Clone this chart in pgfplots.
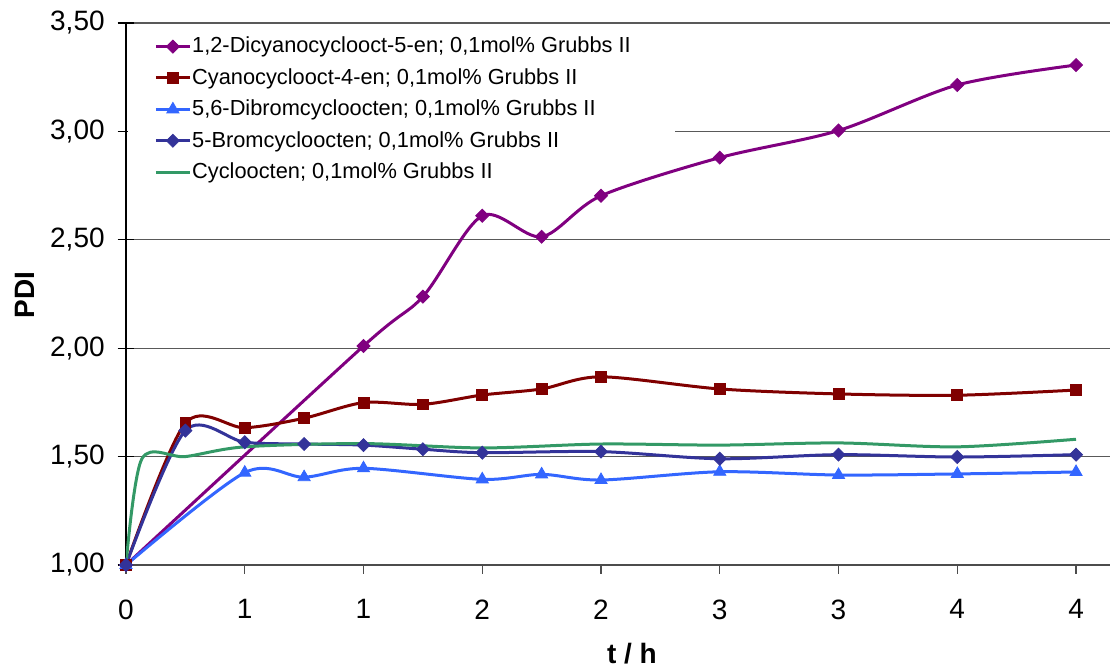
\documentclass[border=0pt]{standalone}
\usepackage{pgfplots}
\pgfplotsset{compat=1.18}
\usepackage{fontspec}
\setmainfont{Liberation Sans}
\definecolor{cpurple}{HTML}{800080}
\definecolor{cred}{HTML}{800000}
\definecolor{clblue}{HTML}{3366FF}
\definecolor{cdblue}{HTML}{333399}
\definecolor{cgreen}{HTML}{339966}

\pgfplotstableread{
x y
0 1.00
1.0 2.01
1.25 2.238
1.5 2.611
1.75 2.514
2.0 2.703
2.5 2.879
3.0 3.004
3.5 3.214
4.0 3.306
}\tpurple
\pgfplotstableread{
x y
0 1.00
0.25 1.654
0.5 1.633
0.75 1.677
1.0 1.749
1.25 1.741
1.5 1.784
1.75 1.812
2.0 1.868
2.5 1.812
3.0 1.789
3.5 1.783
4.0 1.807
}\tred
\pgfplotstableread{
x y
0 1.00
0.5 1.426
0.75 1.405
1.0 1.446
1.5 1.395
1.75 1.418
2.0 1.392
2.5 1.430
3.0 1.415
3.5 1.420
4.0 1.429
}\tlblue
\pgfplotstableread{
x y
0 1.00
0.25 1.620
0.5 1.566
0.75 1.558
1.0 1.553
1.25 1.534
1.5 1.518
2.0 1.523
2.5 1.490
3.0 1.509
3.5 1.498
4.0 1.509
}\tdblue
\pgfplotstableread{
x y
0 1.00
0.067 1.49
0.25 1.50
0.5 1.545
1.0 1.56
1.5 1.54
2.0 1.558
2.5 1.553
3.0 1.563
3.5 1.545
4.0 1.58
}\tgreen

\begin{document}
\begin{tikzpicture}
\begin{axis}[name=ax, scale only axis, width=492pt, height=271pt,
  xmin=0, xmax=4.143, ymin=1, ymax=3.5,
  axis x line*=bottom, axis y line*=left,
  x axis line style={-, draw=black!70, line width=1pt},
  y axis line style={-, draw=black, line width=0.6pt},
  xtick={0,0.5,1,1.5,2,2.5,3,3.5,4},
  xticklabels={0,1,1,2,2,3,3,4,4},
  ytick={1,1.5,2,2.5,3,3.5},
  ymajorgrids,
  grid style={draw=black!65, line width=0.6pt},
  xtick align=outside, ytick align=center,
  xtick style={draw=black!70, line width=0.6pt, /pgfplots/major tick length=4.5pt},
  ytick style={draw=black, line width=0.6pt, /pgfplots/major tick length=8.4pt},
  tick label style={font=\fontsize{14}{16}\selectfont},
  xticklabel style={yshift=-9.5pt},
  yticklabel style={xshift=-5pt, /pgf/number format/.cd, fixed, fixed zerofill, precision=2, use comma, assume math mode=true},
  xlabel={t / h}, ylabel={PDI},
  xlabel style={font=\fontsize{14}{16}\selectfont\bfseries, at={(axis description cs:0.5142,-0.1642)}, anchor=center},
  ylabel style={font=\fontsize{14}{16}\selectfont\bfseries, at={(axis description cs:-0.1026,0.498)}, anchor=center},
  legend cell align=left,
  legend style={at={(axis description cs:0,1)}, anchor=north west, xshift=0pt, yshift=-5.4pt,
    draw=none, fill=none, font=\fontsize{10.9}{12.8}\selectfont,
    inner xsep=14pt, inner ysep=0.5pt, row sep=4.3pt,
    nodes={inner xsep=0.4pt, inner ysep=1pt, text depth=0.15em}},
  legend image code/.code={\draw[mark repeat=2,mark phase=2,#1] plot coordinates {(0pt,0pt) (8.5pt,0pt) (17pt,0pt)};},
  every axis plot/.append style={line width=1.5pt, smooth},
]
% white backdrop of the legend (hides the grid line behind it, as in the original)
\fill[white] (axis description cs:0.002,0.996) rectangle (axis description cs:0.558,0.705);
\addplot[cpurple, mark=square*, mark size=2.3pt, mark options={solid, rotate=45, fill=cpurple, line width=0.4pt}] table[x=x,y=y] {\tpurple};
\addlegendentry{1,2-Dicyanocyclooct-5-en; 0,1mol\% Grubbs II}
\addplot[cred, mark=square*, mark size=2.7pt, mark options={solid, fill=cred, line width=0.4pt}] table[x=x,y=y] {\tred};
\addlegendentry{Cyanocyclooct-4-en; 0,1mol\% Grubbs II}
\addplot[clblue, mark=triangle*, mark size=3.5pt, mark options={solid, fill=clblue, line width=0.4pt}] table[x=x,y=y] {\tlblue};
\addlegendentry{5,6-Dibromcycloocten; 0,1mol\% Grubbs II}
\addplot[cdblue, mark=square*, mark size=2.3pt, mark options={solid, rotate=45, fill=cdblue, line width=0.4pt}] table[x=x,y=y] {\tdblue};
\addlegendentry{5-Bromcycloocten; 0,1mol\% Grubbs II}
\addplot[cgreen, no markers] table[x=x,y=y] {\tgreen};
\addlegendentry{Cycloocten; 0,1mol\% Grubbs II}
\end{axis}
\pgfresetboundingbox
\path ([shift={(-63pt,-51.5pt)}]ax.south west) rectangle ([shift={(0pt,11.5pt)}]ax.north east);
\end{tikzpicture}
\end{document}
